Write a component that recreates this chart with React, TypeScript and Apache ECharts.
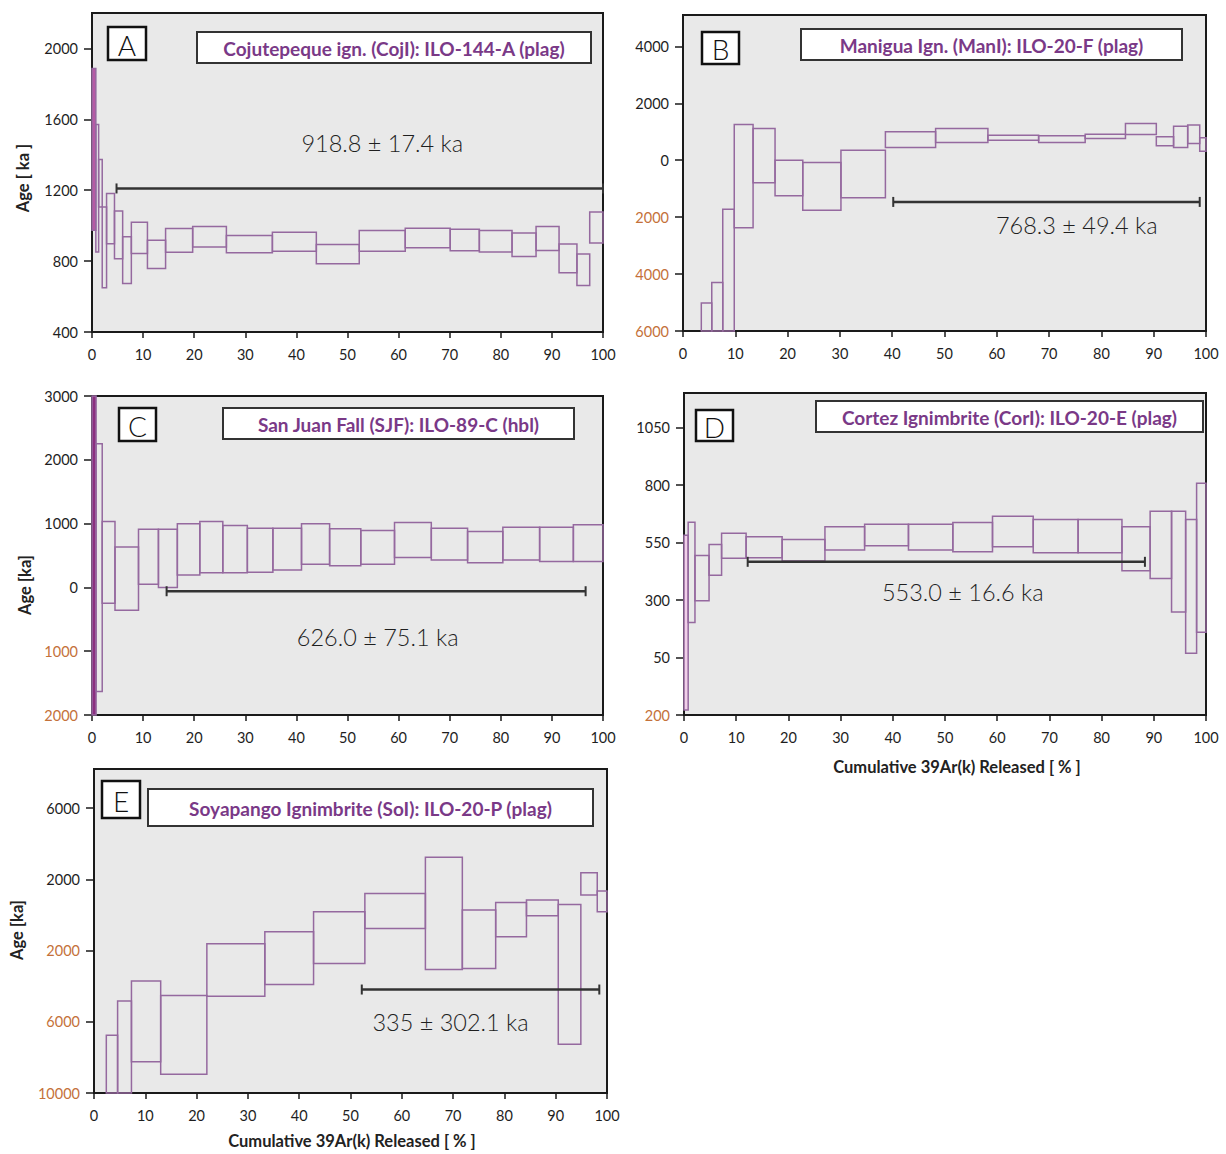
import React, { useEffect, useRef } from 'react';
import * as echarts from 'echarts';

// Incremental heating steps: [cumulative 39Ar start %, end %, age − 1σ, age + 1σ] (ka)
const stepsA = [
  [0, 0.75, 974, 1887],
  [0.75, 1.3, 852, 1571],
  [1.3, 2.0, 1106, 1373],
  [2.0, 2.85, 649, 1106],
  [2.85, 4.4, 898, 1181],
  [4.4, 6.0, 814, 1083],
  [6.0, 7.7, 673, 937],
  [7.7, 10.85, 843, 1019],
  [10.85, 14.4, 758, 918],
  [14.4, 19.7, 850, 984],
  [19.7, 26.3, 879, 995],
  [26.3, 35.3, 847, 945],
  [35.3, 43.9, 856, 963],
  [43.9, 52.3, 785, 894],
  [52.3, 61.3, 856, 973],
  [61.3, 70.1, 875, 986],
  [70.1, 75.8, 858, 980],
  [75.8, 82.2, 851, 973],
  [82.2, 86.9, 826, 958],
  [86.9, 91.4, 860, 996],
  [91.4, 94.9, 734, 896],
  [94.9, 97.4, 662, 840],
  [97.4, 100, 902, 1077],
];
const stepsB = [
  [3.5, 5.5, -8600, -5020],
  [5.5, 7.6, -8200, -4300],
  [7.6, 9.8, -7400, -1720],
  [9.8, 13.4, -2370, 1257],
  [13.4, 17.6, -790, 1110],
  [17.6, 22.9, -1250, 0],
  [22.9, 30.2, -1760, -80],
  [30.2, 38.7, -1320, 350],
  [38.7, 48.3, 446, 997],
  [48.3, 58.3, 622, 1114],
  [58.3, 68.0, 704, 880],
  [68.0, 76.9, 622, 856],
  [76.9, 84.6, 762, 915],
  [84.6, 90.5, 903, 1290],
  [90.5, 93.8, 504, 821],
  [93.8, 96.5, 446, 1196],
  [96.5, 98.8, 587, 1232],
  [98.8, 100, 317, 786],
];
const stepsC = [
  [0, 0.8, -2600, 3400],
  [0.8, 2.0, -1630, 2250],
  [2.0, 4.5, -250, 1034],
  [4.5, 9.1, -360, 635],
  [9.1, 13.0, 50, 910],
  [13.0, 16.7, 0, 910],
  [16.7, 21.1, 194, 997],
  [21.1, 25.6, 231, 1034],
  [25.6, 30.4, 231, 971],
  [30.4, 35.4, 236, 929],
  [35.4, 41.0, 273, 929],
  [41.0, 46.5, 362, 997],
  [46.5, 52.6, 341, 918],
  [52.6, 59.2, 362, 892],
  [59.2, 66.4, 467, 1018],
  [66.4, 73.5, 430, 929],
  [73.5, 80.4, 388, 876],
  [80.4, 87.6, 430, 944],
  [87.6, 94.2, 404, 944],
  [94.2, 100, 404, 981],
];
const stepsD = [
  [0, 0.8, -178, 582],
  [0.8, 2.1, 202, 638],
  [2.1, 4.8, 297, 494],
  [4.8, 7.2, 408, 541],
  [7.2, 11.9, 482, 590],
  [11.9, 18.8, 484, 575],
  [18.8, 27.0, 470, 563],
  [27.0, 34.6, 517, 618],
  [34.6, 43.0, 536, 629],
  [43.0, 51.5, 517, 629],
  [51.5, 59.1, 510, 637],
  [59.1, 66.9, 531, 664],
  [66.9, 75.5, 505, 650],
  [75.5, 83.9, 505, 650],
  [83.9, 89.3, 427, 618],
  [89.3, 93.4, 394, 686],
  [93.4, 96.1, 248, 686],
  [96.1, 98.2, 69, 650],
  [98.2, 100, 160, 808],
];
const stepsE = [
  [2.4, 4.6, -13500, -6750],
  [4.6, 7.3, -12800, -4830],
  [7.3, 13.0, -8250, -3710],
  [13.0, 22.0, -8940, -4530],
  [22.0, 33.3, -4570, -1620],
  [33.3, 42.8, -3906, -944],
  [42.8, 52.8, -2725, 181],
  [52.8, 64.6, -756, 1213],
  [64.6, 71.8, -3063, 3238],
  [71.8, 78.3, -3006, 275],
  [78.3, 84.3, -1225, 706],
  [84.3, 90.5, -44, 838],
  [90.5, 94.9, -7263, 594],
  [94.9, 98.1, 1119, 2375],
  [98.1, 100, 181, 1344],
];

// Plateau bars: [from %, to %, drawn at age (ka)]
const plateauA = [4.8, 100, 1210];
const plateauB = [40.2, 98.8, -1466];
const plateauC = [14.6, 96.6, -60];
const plateauD = [12.2, 88.3, 466];
const plateauE = [52.2, 98.5, -4188];

// Plateau age statements and where they sit: [%, ka]
const ageTextA = '918.8 ± 17.4 ka';
const ageTextB = '768.3 ± 49.4 ka';
const ageTextC = '626.0 ± 75.1 ka';
const ageTextD = '553.0 ± 16.6 ka';
const ageTextE = '335 ± 302.1 ka';
const agePosA = [56.8, 1465];
const agePosB = [75.3, -2265];
const agePosC = [55.9, -770];
const agePosD = [53.4, 333];
const agePosE = [69.5, -6010];

const titleA = 'Cojutepeque ign. (CojI): ILO-144-A (plag)';
const titleB = 'Manigua Ign. (ManI): ILO-20-F (plag)';
const titleC = 'San Juan Fall (SJF): ILO-89-C (hbl)';
const titleD = 'Cortez Ignimbrite (CorI): ILO-20-E (plag)';
const titleE = 'Soyapango Ignimbrite (SoI): ILO-20-P (plag)';

// Tick values
const xTicks = [0, 10, 20, 30, 40, 50, 60, 70, 80, 90, 100];
const yTicksA = [400, 800, 1200, 1600, 2000];
const yTicksB = [-6000, -4000, -2000, 0, 2000, 4000];
const yTicksC = [-2000, -1000, 0, 1000, 2000, 3000];
const yTicksD = [-200, 50, 300, 550, 800, 1050];
const yTicksE = [-10000, -6000, -2000, 2000, 6000];

const xTitle = 'Cumulative 39Ar(k) Released [ % ]';

const FONT = 'Lato, "Noto Sans", sans-serif';
const STEP_STROKE = '#95699f';
const TITLE_PURPLE = '#7a3987';
const NEG_LABEL = '#c4713a';
const AXIS_DARK = '#1a1a1a';

const panels = [
  {
    letter: 'A', title: titleA, steps: stepsA, plateau: plateauA, ageText: ageTextA, agePos: agePosA,
    yTicks: yTicksA, yMin: 400, yMax: 2200,
    grid: { left: 92, top: 13, width: 511, height: 319 },
    letterBox: [108, 27, 38, 33], titleBox: [197, 32, 394, 31], firstFill: '#b65aa5',
  },
  {
    letter: 'B', title: titleB, steps: stepsB, plateau: plateauB, ageText: ageTextB, agePos: agePosB,
    yTicks: yTicksB, yMin: -6000, yMax: 5100,
    grid: { left: 683, top: 15, width: 523, height: 316 },
    letterBox: [702, 32, 37, 32], titleBox: [801, 29, 381, 31], firstFill: null,
  },
  {
    letter: 'C', title: titleC, steps: stepsC, plateau: plateauC, ageText: ageTextC, agePos: agePosC,
    yTicks: yTicksC, yMin: -2000, yMax: 3000,
    grid: { left: 92, top: 396, width: 511, height: 319 },
    letterBox: [119, 408, 37, 33], titleBox: [223, 408, 351, 31], firstFill: '#8c2f80',
  },
  {
    letter: 'D', title: titleD, steps: stepsD, plateau: plateauD, ageText: ageTextD, agePos: agePosD,
    yTicks: yTicksD, yMin: -200, yMax: 1200,
    grid: { left: 684, top: 393, width: 522, height: 322 },
    letterBox: [696, 410, 37, 31], titleBox: [816, 401, 387, 31], firstFill: '#f1cfe9',
  },
  {
    letter: 'E', title: titleE, steps: stepsE, plateau: plateauE, ageText: ageTextE, agePos: agePosE,
    yTicks: yTicksE, yMin: -10000, yMax: 8200,
    grid: { left: 94, top: 769, width: 513, height: 324 },
    letterBox: [102, 781, 38, 37], titleBox: [148, 789, 445, 37], firstFill: null,
  },
];

const axisTitles = [
  { text: 'Age [ ka ]', x: 23, y: 178, rotate: true },
  { text: 'Age [ka]', x: 25, y: 585, rotate: true },
  { text: 'Age [ka]', x: 17, y: 930, rotate: true },
  { text: xTitle, x: 957, y: 767, rotate: false },
  { text: xTitle, x: 352, y: 1141, rotate: false },
];

function stepSeries(i: number, steps: number[][], firstFill: string | null) {
  return {
    type: 'custom',
    xAxisIndex: i,
    yAxisIndex: i,
    silent: true,
    data: steps,
    encode: { x: [0, 1], y: [2, 3] },
    renderItem: (params: any, api: any) => {
      const tl = api.coord([api.value(0), api.value(3)]);
      const br = api.coord([api.value(1), api.value(2)]);
      const cs = params.coordSys;
      const shape = echarts.graphic.clipRectByRect(
        { x: tl[0], y: tl[1], width: br[0] - tl[0], height: br[1] - tl[1] },
        { x: cs.x, y: cs.y, width: cs.width, height: cs.height }
      );
      if (!shape) return null;
      const fill = params.dataIndex === 0 && firstFill ? firstFill : 'none';
      return {
        type: 'rect',
        shape,
        style: { fill, stroke: STEP_STROKE, lineWidth: 1.5 },
      };
    },
  };
}

function plateauSeries(i: number, plateau: number[]) {
  return {
    type: 'custom',
    xAxisIndex: i,
    yAxisIndex: i,
    silent: true,
    data: [plateau],
    encode: { x: [0, 1], y: 2 },
    renderItem: (_params: any, api: any) => {
      const a = api.coord([api.value(0), api.value(2)]);
      const b = api.coord([api.value(1), api.value(2)]);
      const st = { stroke: '#333333', lineWidth: 2.5 };
      const cap = { stroke: '#333333', lineWidth: 2 };
      return {
        type: 'group',
        children: [
          { type: 'line', shape: { x1: a[0], y1: a[1], x2: b[0], y2: b[1] }, style: st },
          { type: 'line', shape: { x1: a[0], y1: a[1] - 5, x2: a[0], y2: a[1] + 5 }, style: cap },
          { type: 'line', shape: { x1: b[0], y1: b[1] - 5, x2: b[0], y2: b[1] + 5 }, style: cap },
        ],
      };
    },
  };
}

function ageSeries(i: number, pos: number[], text: string) {
  return {
    type: 'custom',
    xAxisIndex: i,
    yAxisIndex: i,
    silent: true,
    data: [pos],
    encode: { x: 0, y: 1 },
    renderItem: (_params: any, api: any) => {
      const p = api.coord([api.value(0), api.value(1)]);
      return {
        type: 'text',
        x: p[0],
        y: p[1],
        style: {
          text,
          align: 'center',
          verticalAlign: 'middle',
          fontSize: 23.5,
          fontFamily: FONT,
          fontWeight: 300,
          fill: '#1f1f1f',
        },
      };
    },
  };
}

function buildOption() {
  const grids: any[] = [];
  const xAxes: any[] = [];
  const yAxes: any[] = [];
  const series: any[] = [];
  const graphics: any[] = [];

  panels.forEach((p, i) => {
    grids.push({
      ...p.grid,
      show: true,
      containLabel: false,
      outerBoundsMode: 'none',
      backgroundColor: '#e9e9e9',
      borderColor: AXIS_DARK,
      borderWidth: 2,
    });
    xAxes.push({
      type: 'value',
      gridIndex: i,
      min: 0,
      max: 100,
      interval: 10,
      axisLine: { show: true, onZero: false, lineStyle: { color: AXIS_DARK, width: 2 } },
      axisTick: { show: true, length: 6, customValues: xTicks, lineStyle: { color: AXIS_DARK, width: 1.5 } },
      axisLabel: {
        customValues: xTicks,
        margin: 15,
        fontSize: 14.5,
        fontFamily: FONT,
        color: '#1e1e1e',
      },
      splitLine: { show: false },
    });
    yAxes.push({
      type: 'value',
      gridIndex: i,
      min: p.yMin,
      max: p.yMax,
      axisLine: { show: true, onZero: false, lineStyle: { color: AXIS_DARK, width: 2 } },
      axisTick: { show: true, length: 8, customValues: p.yTicks, lineStyle: { color: AXIS_DARK, width: 1.5 } },
      axisLabel: {
        customValues: p.yTicks,
        margin: 14,
        formatter: (v: number) => (v < 0 ? `{neg|${-v}}` : `{pos|${v}}`),
        rich: {
          pos: { fontSize: 14.5, fontFamily: FONT, color: '#1e1e1e' },
          neg: { fontSize: 14.5, fontFamily: FONT, color: NEG_LABEL },
        },
      },
      splitLine: { show: false },
    });
    series.push(stepSeries(i, p.steps, p.firstFill));
    series.push(plateauSeries(i, p.plateau));
    series.push(ageSeries(i, p.agePos, p.ageText));

    const [lx, ly, lw, lh] = p.letterBox;
    graphics.push({
      type: 'rect',
      shape: { x: lx, y: ly, width: lw, height: lh },
      style: { fill: '#ffffff', stroke: '#111111', lineWidth: 2.5 },
      z: 100,
    });
    graphics.push({
      type: 'text',
      x: lx + lw / 2,
      y: ly + lh / 2 + 1,
      style: {
        text: p.letter,
        align: 'center',
        verticalAlign: 'middle',
        fontSize: 28,
        fontFamily: FONT,
        fontWeight: 300,
        fill: '#111111',
      },
      z: 101,
    });
    const [tx, ty, tw, th] = p.titleBox;
    graphics.push({
      type: 'rect',
      shape: { x: tx, y: ty, width: tw, height: th },
      style: { fill: '#ffffff', stroke: '#333333', lineWidth: 2 },
      z: 100,
    });
    graphics.push({
      type: 'text',
      x: tx + tw / 2,
      y: ty + th / 2 + 1,
      style: {
        text: p.title,
        align: 'center',
        verticalAlign: 'middle',
        fontSize: 19,
        fontFamily: FONT,
        fontWeight: 'bold',
        fill: TITLE_PURPLE,
      },
      z: 101,
    });
  });

  axisTitles.forEach((t) => {
    graphics.push({
      type: 'text',
      x: t.x,
      y: t.y,
      rotation: t.rotate ? Math.PI / 2 : 0,
      style: {
        text: t.text,
        align: 'center',
        verticalAlign: 'middle',
        fontSize: 16.5,
        fontFamily: FONT,
        fontWeight: 'bold',
        fill: '#222222',
      },
    });
  });

  return {
    animation: false,
    backgroundColor: '#ffffff',
    grid: grids,
    xAxis: xAxes,
    yAxis: yAxes,
    series,
    graphic: graphics,
  };
}

export default function App() {
  const ref = useRef<HTMLDivElement>(null);
  useEffect(() => {
    if (!ref.current) return;
    const chart = echarts.init(ref.current, undefined, { renderer: 'svg' });
    chart.setOption(buildOption() as any);
    return () => chart.dispose();
  }, []);
  return (
    <div
      ref={ref}
      style={{ position: 'absolute', left: 0, top: 0, width: 1226, height: 1154, background: '#ffffff' }}
    />
  );
}
